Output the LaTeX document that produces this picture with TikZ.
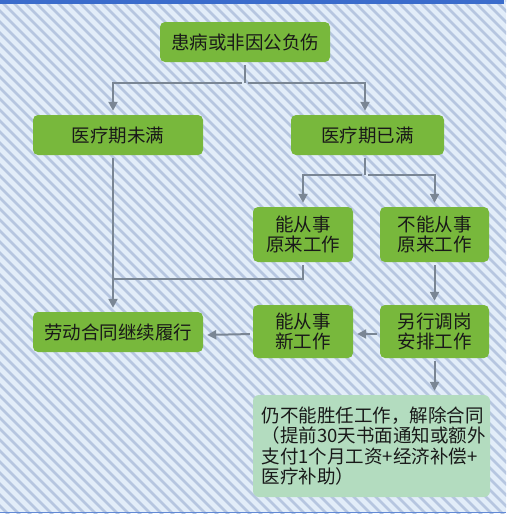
\documentclass[tikz,border=0pt]{standalone}
\usepackage{fontspec}
\setmainfont{Noto Sans CJK SC}
\usetikzlibrary{arrows.meta}
\definecolor{bgblue}{HTML}{E2EDF9}
\definecolor{stripe}{HTML}{B6C6E0}
\definecolor{topbar}{HTML}{3A6CCC}
\definecolor{boxgreen}{HTML}{78B83C}
\definecolor{boxlight}{HTML}{B3DCBF}
\definecolor{arrgray}{HTML}{7A8694}
\tikzset{
  gbox/.style={fill=boxgreen, rounded corners=5pt, inner sep=0pt, align=center,
    font=\fontsize{18.5}{20.5}\selectfont, text=black!90},
  lbox/.style={fill=boxlight, rounded corners=6pt, inner sep=0pt, align=left,
    font=\fontsize{18.5}{20.5}\selectfont, text=black!90},
  conn/.style={draw=arrgray, line width=2pt, shorten <=3pt},
  arr/.style={conn, -{Triangle[width=9pt,length=9pt]}, shorten >=4pt},
}
\begin{document}
\begin{tikzpicture}[x=1pt,y=-1pt]
\useasboundingbox (0,0) rectangle (512,517);
% background
\fill[bgblue] (0,0) rectangle (506,513);
\begin{scope}
\clip (0,0) rectangle (506,513);
\foreach \i in {-528,-517,...,520} \draw[stripe, line width=2.8pt] (\i,0) -- (\i+517,517);
\end{scope}
\fill[topbar] (0,0) rectangle (504,4);
\draw[topbar!80, line width=1.2pt] (0,512.5) -- (506,512.5);
% nodes
\node[gbox, minimum width=170pt, minimum height=40pt] (top) at (245,42) {患病或非因公负伤};
\node[gbox, minimum width=170pt, minimum height=40pt] (a1) at (118,135) {医疗期未满};
\node[gbox, minimum width=153pt, minimum height=40pt] (a2) at (367.5,135) {医疗期已满};
\node[gbox, minimum width=100pt, minimum height=55pt] (b1) at (303,234.5) {能从事\\原来工作};
\node[gbox, minimum width=109pt, minimum height=55pt] (b2) at (434.5,234.5) {不能从事\\原来工作};
\node[gbox, minimum width=100pt, minimum height=53pt] (c1) at (303,331.5) {能从事\\新工作};
\node[gbox, minimum width=109pt, minimum height=53pt] (c2) at (434.5,331.5) {另行调岗\\安排工作};
\node[gbox, minimum width=170pt, minimum height=40pt] (d) at (118,332) {劳动合同继续履行};
\node[lbox, minimum width=237pt, minimum height=102pt, text width=220pt] (e) at (371.5,446)
  {仍不能胜任工作，解除合同\\（提前30天书面通知或额外\\支付1个月工资+经济补偿+\\医疗补助）};
% connectors
\coordinate (j1) at (245,83);
\coordinate (j2) at (365,175);
\coordinate (j3) at (113,279);
\draw[conn] (top.south) -- (j1);
\draw[arr] (j1) -| ([xshift=-5pt]a1.north);
\draw[arr] (j1) -| ([xshift=-2.5pt]a2.north);
\draw[conn] ([xshift=-2.5pt]a2.south) -- (j2);
\draw[arr] (j2) -| (b1.north);
\draw[arr] (j2) -| (b2.north);
\draw[arr] ([xshift=-5pt]a1.south) -- ([xshift=-5pt]d.north);
\draw[conn] (b1.south) |- (j3);
\draw[arr] (b2.south) -- (c2.north);
\draw[arr] ([yshift=-2.5pt]c2.west) -- ([yshift=-2.5pt]c1.east);
\draw[arr] ([yshift=-2.5pt]c1.west) -- ([yshift=-3pt]d.east);
\draw[arr] (c2.south) -- (c2.south |- e.north);
\end{tikzpicture}
\end{document}
